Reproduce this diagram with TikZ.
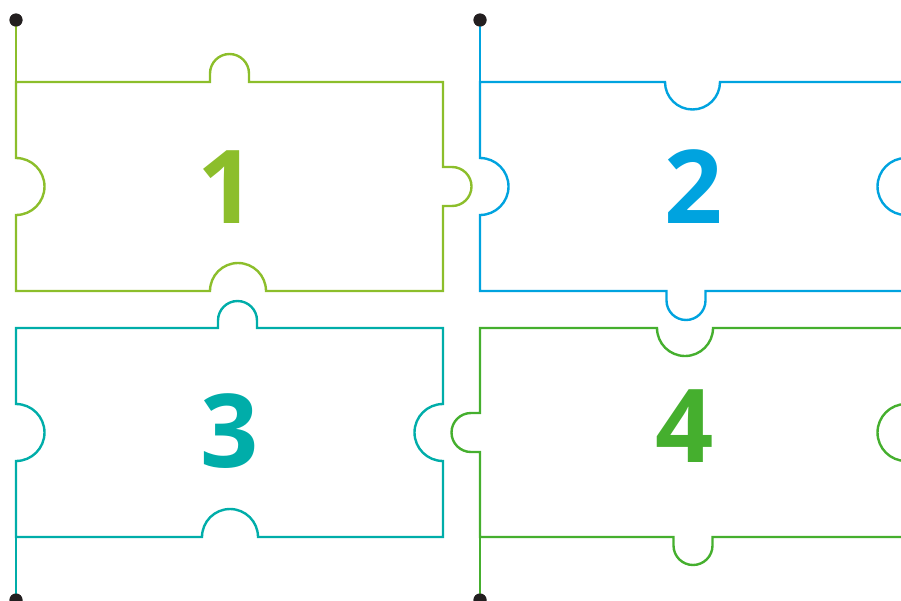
\documentclass[tikz,border=0pt]{standalone}
\usepackage{fontspec}
\newfontfamily\numfont{Open Sans}
\definecolor{cA}{HTML}{8CBE2B}
\definecolor{cB}{HTML}{00A3DF}
\definecolor{cC}{HTML}{00ADA9}
\definecolor{cD}{HTML}{45AF2E}
\definecolor{dotc}{HTML}{231F20}
\begin{document}
\begin{tikzpicture}[x=1pt,y=-1pt,
  piece/.style={line width=2.4pt,line join=miter},
  num/.style={font=\numfont\bfseries\fontsize{102}{102}\selectfont,inner sep=0pt,anchor=base},
  pin/.style={circle,fill=dotc,minimum size=13pt,inner sep=0pt}]
\useasboundingbox (0,0) rectangle (901,600);
\clip (0,0) rectangle (901,600);
% piece 1
\draw[piece,cA] (16,82) -- (210,82) -- (210,73.5)
  arc[start angle=180,end angle=360,radius=19.5] -- (249,82) -- (443,82) -- (443,167) -- (452,167)
  arc[start angle=270,end angle=450,radius=19.5] -- (443,206) -- (443,291) -- (266,291)
  arc[start angle=0,end angle=-180,radius=28] -- (16,291) -- (16,215)
  arc[start angle=90,end angle=-90,radius=28.5] -- cycle;
% piece 2
\draw[piece,cB] (480,82) -- (665,82)
  arc[start angle=180,end angle=0,radius=27.5] -- (910,82) -- (910,291) -- (705.5,291) -- (705.5,300.5)
  arc[start angle=0,end angle=180,radius=19.5] -- (666.5,291) -- (480,291) -- (480,215)
  arc[start angle=90,end angle=-90,radius=28.5] -- cycle;
\draw[piece,cB] (906,158) arc[start angle=-90,end angle=-270,radius=28.5];
% piece 3
\draw[piece,cC] (16,328) -- (218,328) -- (218,320.5)
  arc[start angle=180,end angle=360,radius=19.5] -- (257,328) -- (443,328) -- (443,404)
  arc[start angle=-90,end angle=-270,radius=28.5] -- (443,537) -- (258,537)
  arc[start angle=0,end angle=-180,radius=28] -- (16,537) -- (16,461)
  arc[start angle=90,end angle=-90,radius=28.5] -- cycle;
% piece 4
\draw[piece,cD] (480,328) -- (657,328)
  arc[start angle=180,end angle=0,radius=28] -- (910,328) -- (910,537) -- (712.5,537) -- (712.5,545.5)
  arc[start angle=0,end angle=180,radius=19.5] -- (673.5,537) -- (480,537) -- (480,452) -- (471,452)
  arc[start angle=90,end angle=270,radius=19.5] -- (480,413) -- cycle;
\draw[piece,cD] (906,404) arc[start angle=-90,end angle=-270,radius=28.5];
% stems and pins
\coordinate (k1) at (16,82);
\coordinate (k2) at (480,82);
\coordinate (k3) at (16,537);
\coordinate (k4) at (480,537);
\node[pin] (p1) at (16,20) {};
\node[pin] (p2) at (480,20) {};
\node[pin] (p3) at (16,600) {};
\node[pin] (p4) at (480,600) {};
\draw[piece,cA] (p1.center) -- (k1);
\draw[piece,cB] (p2.center) -- (k2);
\draw[piece,cC] (k3) -- (p3.center);
\draw[piece,cD] (k4) -- (p4.center);
\node[pin] at (p1) {};
\node[pin] at (p2) {};
\node[pin] at (p3) {};
\node[pin] at (p4) {};
% numbers
\node[num,cA] (n1) at (227,223) {1};
\node[num,cB] (n2) at (694,223) {2};
\node[num,cC] (n3) at (230,467) {3};
\node[num,cD] (n4) at (685,462) {4};
\end{tikzpicture}
\end{document}
